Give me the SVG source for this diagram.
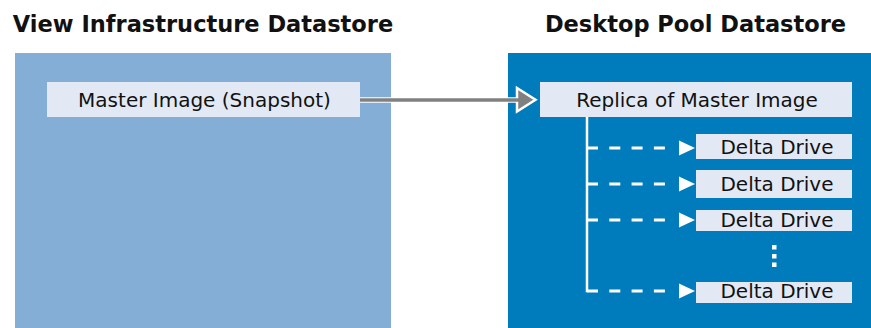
<svg xmlns="http://www.w3.org/2000/svg" width="871" height="328" viewBox="0 0 871 328">
<defs>
<style>
.title{font-family:"DejaVu Sans","Liberation Sans",sans-serif;font-weight:bold;font-size:22.5px;fill:#111;text-anchor:middle}
.lbl{font-family:"DejaVu Sans","Liberation Sans",sans-serif;font-size:20px;fill:#111;text-anchor:middle}
.node{fill:#E2E9F5}
.dash{stroke:#fff;stroke-width:3;stroke-dasharray:11 11.3;fill:none}
.head{fill:#fff}
</style>
</defs>
<rect width="871" height="328" fill="#fff"/>
<g id="view-infrastructure-datastore">
<rect x="15" y="53" width="376" height="275" fill="#84AED6"/>
<text class="title" x="203" y="32">View Infrastructure Datastore</text>
</g>
<g id="desktop-pool-datastore">
<rect x="508" y="53" width="363" height="275" fill="#007CBC"/>
<text class="title" x="695.5" y="32">Desktop Pool Datastore</text>
</g>
<g id="master-image">
<rect class="node" x="47" y="82" width="313" height="35"/>
<text class="lbl" x="204.5" y="107.3">Master Image (Snapshot)</text>
</g>
<g id="replica">
<rect class="node" x="540" y="82" width="312" height="35"/>
<text class="lbl" x="697" y="107.3">Replica of Master Image</text>
</g>
<g id="delta-1">
<rect class="node" x="696" y="134" width="156" height="25"/>
<text class="lbl" x="777" y="154.3">Delta Drive</text>
</g>
<g id="delta-2">
<rect class="node" x="696" y="170" width="156" height="28"/>
<text class="lbl" x="777" y="190.7">Delta Drive</text>
</g>
<g id="delta-3">
<rect class="node" x="696" y="210" width="156" height="21"/>
<text class="lbl" x="777" y="226.7">Delta Drive</text>
</g>
<g id="ellipsis">
<rect x="772" y="245" width="4.5" height="4.5" fill="#fff"/>
<rect x="772" y="254" width="4.5" height="4.5" fill="#fff"/>
<rect x="772" y="262.5" width="4.5" height="4.5" fill="#fff"/>
</g>
<g id="delta-4">
<rect class="node" x="696" y="282" width="156" height="21"/>
<text class="lbl" x="777" y="298.3">Delta Drive</text>
</g>
<g id="connectors">
<line x1="360" y1="100" x2="518" y2="100" stroke="#fff" stroke-width="5.5"/>
<polygon points="517,88 535.5,99.8 517,111.5" fill="#808080" stroke="#fff" stroke-width="2.5" stroke-linejoin="miter"/>
<line x1="360" y1="100" x2="519" y2="100" stroke="#808080" stroke-width="3.3"/>
<polyline points="587,117 587,291 588,291" fill="none" stroke="#fff" stroke-width="2.5"/>
<line class="dash" x1="587" y1="148" x2="676" y2="148"/>
<line class="dash" x1="587" y1="184" x2="676" y2="184"/>
<line class="dash" x1="587" y1="220" x2="676" y2="220"/>
<line class="dash" x1="587" y1="291" x2="676" y2="291"/>
<polygon class="head" points="679,140.5 695,148 679,155.5"/>
<polygon class="head" points="679,176.5 695,184 679,191.5"/>
<polygon class="head" points="679,212.5 695,220 679,227.5"/>
<polygon class="head" points="679,283.5 695,291 679,298.5"/>
</g>
</svg>
